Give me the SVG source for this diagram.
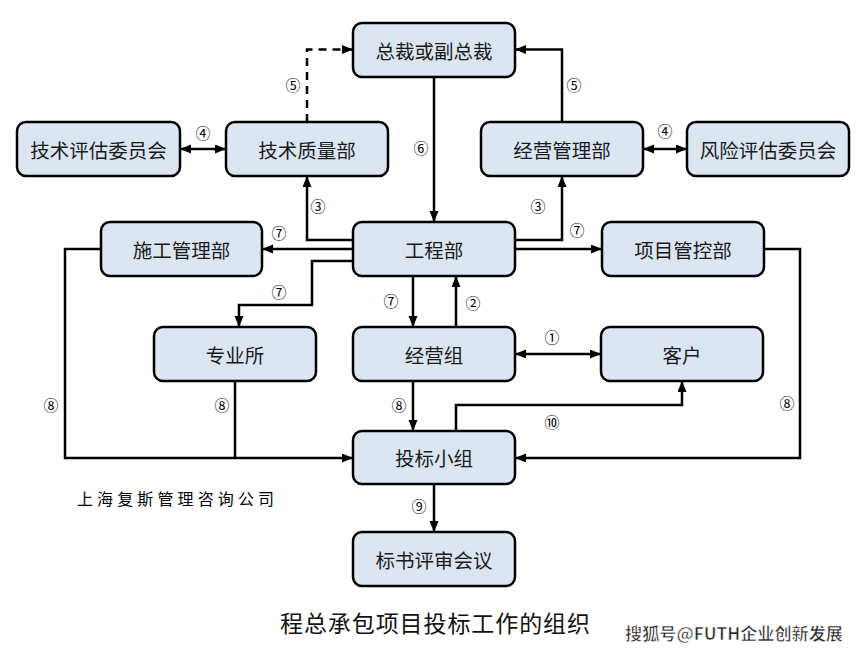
<svg xmlns="http://www.w3.org/2000/svg" width="861" height="650" viewBox="0 0 861 650">
<style>
.box{fill:#dce6f2;stroke:#000;stroke-width:2.5}
.t{font-family:"Noto Sans CJK SC","Noto Sans",sans-serif;font-size:19.5px;fill:#1a1a1a;text-anchor:middle;dominant-baseline:central}
.c{stroke:#000;stroke-width:2.5;fill:none}
.n{font-family:"Noto Sans CJK SC","DejaVu Sans",sans-serif;font-size:15px;fill:#000;text-anchor:middle;dominant-baseline:central}
</style>
<defs>
<marker id="a" markerUnits="userSpaceOnUse" markerWidth="12" markerHeight="10" refX="11" refY="4.5" orient="auto-start-reverse">
<path d="M0,0 L11,4.5 L0,9 z" fill="#000"/>
</marker>
</defs>
<rect width="861" height="650" fill="#fff"/>
<g id="connectors">
<path class="c" d="M307,122 V49.5 H353" stroke-dasharray="8,6" marker-end="url(#a)"/>
<path class="c" d="M562,122 V49.5 H515" marker-end="url(#a)"/>
<path class="c" d="M434,77 V222" marker-end="url(#a)"/>
<path class="c" d="M180,149 H226" marker-start="url(#a)" marker-end="url(#a)"/>
<path class="c" d="M643,149 H687" marker-start="url(#a)" marker-end="url(#a)"/>
<path class="c" d="M353,240 H307 V176" marker-end="url(#a)"/>
<path class="c" d="M515,240 H562 V176" marker-end="url(#a)"/>
<path class="c" d="M353,249 H262" marker-end="url(#a)"/>
<path class="c" d="M515,249 H602" marker-end="url(#a)"/>
<path class="c" d="M353,261 H312 V305 H239 V327" marker-end="url(#a)"/>
<path class="c" d="M413,276 V327" marker-end="url(#a)"/>
<path class="c" d="M456,327 V276" marker-end="url(#a)"/>
<path class="c" d="M515,354 H601" marker-start="url(#a)" marker-end="url(#a)"/>
<path class="c" d="M456,431 V405 H682 V381" marker-end="url(#a)"/>
<path class="c" d="M413,381 V431" marker-end="url(#a)"/>
<path class="c" d="M101,249 H65 V458 H353" marker-end="url(#a)"/>
<path class="c" d="M235,381 V458"/>
<path class="c" d="M764,249 H800 V458 H515" marker-end="url(#a)"/>
<path class="c" d="M434,484 V532" marker-end="url(#a)"/>
</g>
<g id="labels">
<text class="n" x="293" y="84">⑤</text>
<text class="n" x="574" y="84">⑤</text>
<text class="n" x="203" y="132">④</text>
<text class="n" x="665" y="130">④</text>
<text class="n" x="421" y="147">⑥</text>
<text class="n" x="318" y="205">③</text>
<text class="n" x="538" y="205">③</text>
<text class="n" x="279" y="232">⑦</text>
<text class="n" x="577" y="229">⑦</text>
<text class="n" x="279" y="291">⑦</text>
<text class="n" x="391" y="300">⑦</text>
<text class="n" x="473" y="302">②</text>
<text class="n" x="552" y="336">①</text>
<text class="n" x="51" y="404">⑧</text>
<text class="n" x="222" y="404">⑧</text>
<text class="n" x="399" y="404">⑧</text>
<text class="n" x="787" y="402">⑧</text>
<text class="n" x="552" y="421">⑩</text>
<text class="n" x="419" y="505">⑨</text>
</g>
<g id="n-zongcai"><rect class="box" x="353" y="23" width="162" height="54" rx="9"/><text class="t" x="434" y="50">总裁或副总裁</text></g>
<g id="n-jishupinggu"><rect class="box" x="17" y="122" width="163" height="54" rx="9"/><text class="t" x="98.5" y="149">技术评估委员会</text></g>
<g id="n-jishuzhiliang"><rect class="box" x="226" y="122" width="162" height="54" rx="9"/><text class="t" x="307" y="149">技术质量部</text></g>
<g id="n-jingyingguanli"><rect class="box" x="481" y="122" width="162" height="54" rx="9"/><text class="t" x="562" y="149">经营管理部</text></g>
<g id="n-fengxian"><rect class="box" x="687" y="122" width="162" height="54" rx="9"/><text class="t" x="768" y="149">风险评估委员会</text></g>
<g id="n-shigong"><rect class="box" x="101" y="222" width="161" height="54" rx="9"/><text class="t" x="181.5" y="249">施工管理部</text></g>
<g id="n-gongcheng"><rect class="box" x="353" y="222" width="162" height="54" rx="9"/><text class="t" x="434" y="249">工程部</text></g>
<g id="n-xiangmu"><rect class="box" x="602" y="222" width="162" height="54" rx="9"/><text class="t" x="683" y="249">项目管控部</text></g>
<g id="n-zhuanye"><rect class="box" x="154" y="327" width="162" height="54" rx="9"/><text class="t" x="235" y="354">专业所</text></g>
<g id="n-jingyingzu"><rect class="box" x="353" y="327" width="162" height="54" rx="9"/><text class="t" x="434" y="354">经营组</text></g>
<g id="n-kehu"><rect class="box" x="601" y="327" width="162" height="54" rx="9"/><text class="t" x="682" y="354">客户</text></g>
<g id="n-toubiao"><rect class="box" x="353" y="431" width="162" height="53" rx="9"/><text class="t" x="434" y="457.5">投标小组</text></g>
<g id="n-pingshen"><rect class="box" x="353" y="532" width="162" height="54" rx="9"/><text class="t" x="434" y="559">标书评审会议</text></g>
<text x="77" y="498" font-family="'Noto Sans CJK SC',sans-serif" font-size="16" fill="#000" dominant-baseline="central" textLength="197" lengthAdjust="spacing">上海复斯管理咨询公司</text>
<text x="280" y="622" font-family="'Noto Sans CJK SC',sans-serif" font-size="23" fill="#111" dominant-baseline="central" textLength="310" lengthAdjust="spacing">程总承包项目投标工作的组织</text>
<text x="625" y="632" font-family="'Noto Sans CJK SC',sans-serif" font-size="17" font-weight="bold" fill="#222" stroke="#fff" stroke-width="0.6" dominant-baseline="central" textLength="218" lengthAdjust="spacingAndGlyphs">搜狐号@FUTH企业创新发展</text>
</svg>
